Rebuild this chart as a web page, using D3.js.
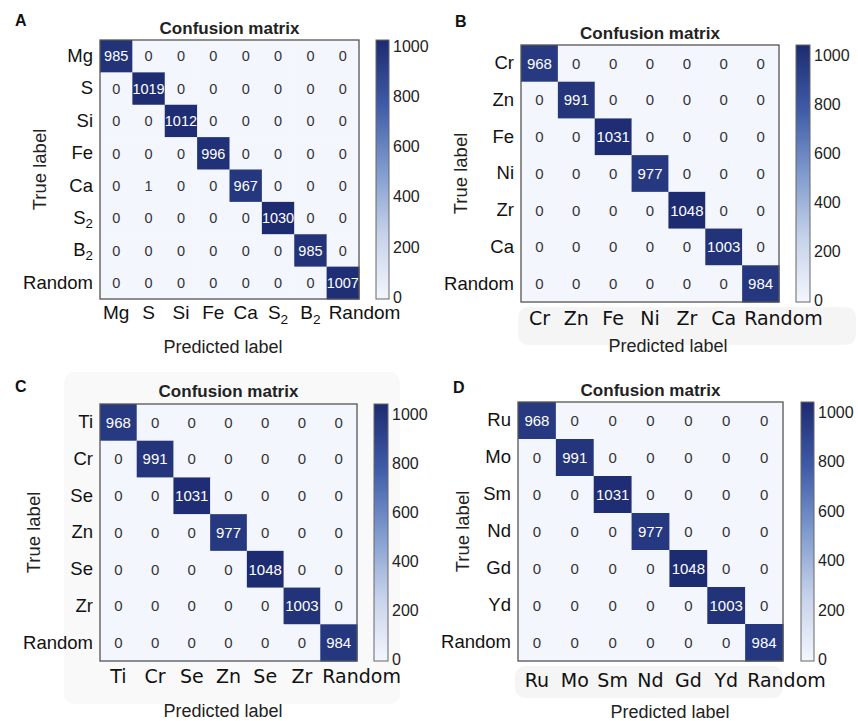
<!DOCTYPE html>
<html>
<head>
<meta charset="utf-8">
<script src="https://cdn.jsdelivr.net/npm/d3@7"></script>
<style>
  body { margin: 0; background: #fff; }
  svg text { font-family: "Liberation Sans", Arial, sans-serif; }
</style>
</head>
<body>
<svg id="chart" width="858" height="721"></svg>
<script>
// ---- data ----
const labelsA = ["Mg", "S", "Si", "Fe", "Ca", "S_2", "B_2", "Random"];
const matrixA = [
  [985, 0, 0, 0, 0, 0, 0, 0],
  [0, 1019, 0, 0, 0, 0, 0, 0],
  [0, 0, 1012, 0, 0, 0, 0, 0],
  [0, 0, 0, 996, 0, 0, 0, 0],
  [0, 1, 0, 0, 967, 0, 0, 0],
  [0, 0, 0, 0, 0, 1030, 0, 0],
  [0, 0, 0, 0, 0, 0, 985, 0],
  [0, 0, 0, 0, 0, 0, 0, 1007]
];
const labelsB = ["Cr", "Zn", "Fe", "Ni", "Zr", "Ca", "Random"];
const matrixB = [
  [968, 0, 0, 0, 0, 0, 0],
  [0, 991, 0, 0, 0, 0, 0],
  [0, 0, 1031, 0, 0, 0, 0],
  [0, 0, 0, 977, 0, 0, 0],
  [0, 0, 0, 0, 1048, 0, 0],
  [0, 0, 0, 0, 0, 1003, 0],
  [0, 0, 0, 0, 0, 0, 984]
];
const labelsC = ["Ti", "Cr", "Se", "Zn", "Se", "Zr", "Random"];
const matrixC = [
  [968, 0, 0, 0, 0, 0, 0],
  [0, 991, 0, 0, 0, 0, 0],
  [0, 0, 1031, 0, 0, 0, 0],
  [0, 0, 0, 977, 0, 0, 0],
  [0, 0, 0, 0, 1048, 0, 0],
  [0, 0, 0, 0, 0, 1003, 0],
  [0, 0, 0, 0, 0, 0, 984]
];
const labelsD = ["Ru", "Mo", "Sm", "Nd", "Gd", "Yd", "Random"];
const matrixD = [
  [968, 0, 0, 0, 0, 0, 0],
  [0, 991, 0, 0, 0, 0, 0],
  [0, 0, 1031, 0, 0, 0, 0],
  [0, 0, 0, 977, 0, 0, 0],
  [0, 0, 0, 0, 1048, 0, 0],
  [0, 0, 0, 0, 0, 1003, 0],
  [0, 0, 0, 0, 0, 0, 984]
];
const cbarTicks = [0, 200, 400, 600, 800, 1000];

// colormap stops (fraction of max -> colour)
const cmapStops = [0, 0.25, 0.5, 0.75, 1];
const cmapColors = ["#f4f6fd", "#c6d2ea", "#7f9acd", "#3f5ba8", "#1d2b70"];

const svg = d3.select('#chart');

// faint backdrops seen behind some axis areas
const backdrops = [
  {x: 518, y: 307, w: 338, h: 38, c: '#f5f5f6'},
  {x: 64, y: 372, w: 336, h: 332, c: '#f9f9fa'},
  {x: 515, y: 666, w: 268, h: 32, c: '#f5f5f6'}
];
svg.selectAll('rect.bg').data(backdrops).enter().append('rect')
  .attr('class', 'bg')
  .attr('x', d => d.x).attr('y', d => d.y)
  .attr('width', d => d.w).attr('height', d => d.h)
  .attr('rx', 10)
  .attr('fill', d => d.c);

// write "S_2" as S with subscript 2
const subLabel = (textSel, label) => {
  const parts = label.split('_');
  textSel.text(parts[0]);
  if (parts[1]) {
    textSel.append('tspan').attr('dy', '0.3em').attr('font-size', '0.72em').text(parts[1]);
  }
};

const panels = [
  {tag: 'A', labels: labelsA, matrix: matrixA, x0: 100, y0: 40, w: 259, h: 259,
   cbx: 376, cbw: 13, tagX: 15, tagY: 26, titleY: 34, xPad: 7, xFont: 'Liberation Sans',
   xlabX: 223, xlabY: 353, ylabX: 40, cellFont: 14.5},
  {tag: 'B', labels: labelsB, matrix: matrixB, x0: 521, y0: 45, w: 258, h: 257,
   cbx: 796, cbw: 14, tagX: 455, tagY: 27, titleY: 39, xPad: 10, xFont: 'DejaVu Sans',
   xlabX: 668, xlabY: 352, ylabX: 461, cellFont: 15},
  {tag: 'C', labels: labelsC, matrix: matrixC, x0: 100, y0: 404, w: 257, h: 257,
   cbx: 374, cbw: 14, tagX: 15, tagY: 392, titleY: 397, xPad: 9, xFont: 'DejaVu Sans',
   xlabX: 223, xlabY: 717, ylabX: 34, cellFont: 15},
  {tag: 'D', labels: labelsD, matrix: matrixD, x0: 518, y0: 402, w: 265, h: 259,
   cbx: 801, cbw: 13, tagX: 453, tagY: 393, titleY: 396, xPad: 13, xFont: 'DejaVu Sans',
   xlabX: 670, xlabY: 718, ylabX: 463, cellFont: 15}
];

const renderPanel = p => {
  const n = p.labels.length;
  const vmax = d3.max(p.matrix.flat());
  const color = d3.scaleLinear()
    .domain(cmapStops.map(s => s * vmax))
    .range(cmapColors)
    .interpolate(d3.interpolateRgb);

  const xScale = d3.scaleBand().domain(d3.range(n)).range([p.x0, p.x0 + p.w]);
  const yScale = d3.scaleBand().domain(d3.range(n)).range([p.y0, p.y0 + p.h]);

  const cells = [];
  p.matrix.forEach((row, i) => row.forEach((v, j) => cells.push({i, j, v})));

  const g = svg.append('g');

  // cells
  g.selectAll('rect.cell').data(cells).enter().append('rect')
    .attr('class', 'cell')
    .attr('x', d => xScale(d.j))
    .attr('y', d => yScale(d.i))
    .attr('width', xScale.bandwidth() + 0.5)
    .attr('height', yScale.bandwidth() + 0.5)
    .attr('fill', d => color(d.v));

  g.selectAll('text.val').data(cells).enter().append('text')
    .attr('class', 'val')
    .attr('x', d => xScale(d.j) + xScale.bandwidth() / 2)
    .attr('y', d => yScale(d.i) + yScale.bandwidth() / 2)
    .attr('dy', '0.36em')
    .attr('text-anchor', 'middle')
    .attr('font-size', p.cellFont)
    .attr('fill', d => d.v > vmax / 2 ? '#ffffff' : '#333333')
    .text(d => d.v);

  // frame
  g.append('rect')
    .attr('x', p.x0).attr('y', p.y0).attr('width', p.w).attr('height', p.h)
    .attr('fill', 'none').attr('stroke', '#555').attr('stroke-width', 1.3);

  // axes
  const xAxis = g.append('g')
    .attr('transform', `translate(0,${p.y0 + p.h})`)
    .call(d3.axisBottom(xScale).tickSize(0).tickPadding(p.xPad).tickFormat(i => p.labels[i]));
  xAxis.select('.domain').remove();
  xAxis.selectAll('text')
    .attr('font-size', 19).attr('fill', '#111')
    .style('font-family', `"${p.xFont}", sans-serif`)
    .each(function(i) { subLabel(d3.select(this), p.labels[i]); });
  // the long last label starts at its column edge instead of centring
  xAxis.selectAll('text').filter(i => i === n - 1)
    .attr('text-anchor', 'start')
    .attr('x', -xScale.bandwidth() / 2 + 2);

  const yAxis = g.append('g')
    .attr('transform', `translate(${p.x0},0)`)
    .call(d3.axisLeft(yScale).tickSize(0).tickPadding(7).tickFormat(i => p.labels[i]));
  yAxis.select('.domain').remove();
  yAxis.selectAll('text')
    .attr('font-size', 18.5).attr('fill', '#111')
    .each(function(i) { subLabel(d3.select(this), p.labels[i]); });

  // titles
  g.append('text')
    .attr('x', p.x0 + p.w / 2).attr('y', p.titleY)
    .attr('text-anchor', 'middle')
    .attr('font-size', 17).attr('font-weight', 'bold').attr('fill', '#222')
    .text('Confusion matrix');

  g.append('text')
    .attr('x', p.tagX).attr('y', p.tagY)
    .attr('font-size', 16).attr('font-weight', 'bold').attr('fill', '#111')
    .text(p.tag);

  g.append('text')
    .attr('x', p.xlabX).attr('y', p.xlabY)
    .attr('text-anchor', 'middle')
    .attr('font-size', 18).attr('fill', '#222')
    .text('Predicted label');

  g.append('text')
    .attr('transform', `translate(${p.ylabX},${p.y0 + p.h / 2}) rotate(-90)`)
    .attr('dy', '0.35em')
    .attr('text-anchor', 'middle')
    .attr('font-size', 18.5).attr('fill', '#222')
    .text('True label');

  // colorbar
  const gradId = 'grad' + p.tag;
  const grad = svg.append('defs').append('linearGradient')
    .attr('id', gradId).attr('x1', 0).attr('y1', 1).attr('x2', 0).attr('y2', 0);
  grad.selectAll('stop').data(cmapStops).enter().append('stop')
    .attr('offset', d => d)
    .attr('stop-color', (d, i) => cmapColors[i]);

  const cScale = d3.scaleLinear().domain([0, vmax]).range([p.y0 + p.h, p.y0]);
  g.append('rect')
    .attr('x', p.cbx).attr('y', p.y0).attr('width', p.cbw).attr('height', p.h)
    .attr('fill', `url(#${gradId})`)
    .attr('stroke', '#666').attr('stroke-width', 1);

  const cAxis = g.append('g')
    .attr('transform', `translate(${p.cbx + p.cbw},0)`)
    .call(d3.axisRight(cScale).tickValues(cbarTicks).tickSize(0).tickPadding(4)
      .tickFormat(d3.format('d')));
  cAxis.select('.domain').remove();
  cAxis.selectAll('text').attr('font-size', 16).attr('fill', '#222').attr('dy', '0.22em');
};

panels.forEach(renderPanel);
</script>
</body>
</html>
